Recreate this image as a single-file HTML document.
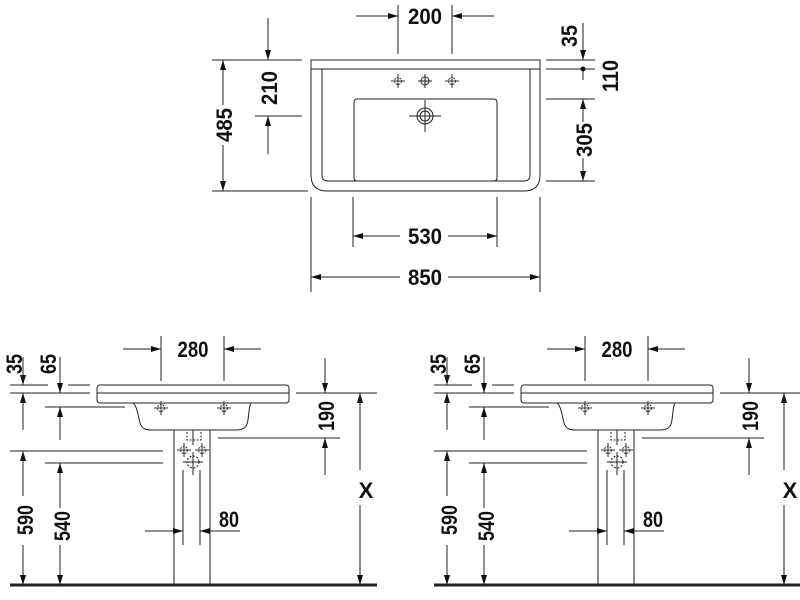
<!DOCTYPE html>
<html><head><meta charset="utf-8"><style>
html,body{margin:0;padding:0;background:#fff;}
svg{display:block}
text{font-family:"Liberation Sans Narrow","Liberation Sans",sans-serif;font-weight:bold;font-size:22px;fill:#111;text-anchor:middle;}
</style></head><body>
<svg width="800" height="600" viewBox="0 0 800 600" xmlns="http://www.w3.org/2000/svg">
<defs>
<marker id="a" viewBox="0 0 10 6" refX="10" refY="3" markerWidth="10" markerHeight="6" markerUnits="userSpaceOnUse" orient="auto"><path d="M0,0L10,3L0,6z" fill="#111"/></marker>
<g id="tap"><circle r="3.5" fill="none" stroke="#333" stroke-width="1" stroke-dasharray="2,1"/><path d="M-7,0H7M0,-7V7" stroke="#333" stroke-width="1"/></g>
<g id="side" stroke="#222" stroke-width="1" fill="none">
 <line x1="10" y1="585" x2="377" y2="585" stroke-width="3"/>
 <rect x="97" y="385" width="192" height="18" rx="3"/>
 <line x1="97" y1="393" x2="289" y2="393"/>
 <path d="M133,403 C137,406 138,415 140,423 C142,429 146,430 152,430 L236,430 C244,430 247,427 248,420 C249,412 249,406 251,403"/>
 <line x1="174" y1="430" x2="174" y2="585"/><line x1="210" y1="430" x2="210" y2="585"/>
 <line x1="183" y1="470" x2="183" y2="545"/><line x1="200" y1="470" x2="200" y2="545"/>
 <path d="M187,432V440H201V432" stroke-dasharray="2,1.5"/>
 <line x1="193" y1="430" x2="193" y2="445"/>
 <use href="#tap" x="161" y="408"/><use href="#tap" x="224" y="408"/>
 <use href="#tap" x="184" y="450"/><use href="#tap" x="202" y="450"/>
 <circle cx="193" cy="462" r="6" stroke-dasharray="2,1.5"/><path d="M183,462H203M193,452V475"/>
 <line x1="161" y1="336" x2="161" y2="381"/><line x1="224" y1="336" x2="224" y2="381"/>
 <line x1="123" y1="349" x2="161" y2="349" marker-end="url(#a)"/><line x1="261" y1="349" x2="224" y2="349" marker-end="url(#a)"/>
 <line x1="10" y1="385" x2="48" y2="385"/><line x1="68" y1="385" x2="90" y2="385"/>
 <line x1="10" y1="393" x2="90" y2="393"/>
 <line x1="23" y1="357" x2="23" y2="385" marker-end="url(#a)"/>
 <line x1="23" y1="430" x2="23" y2="393" marker-end="url(#a)"/>
 <line x1="60" y1="357" x2="60" y2="393" marker-end="url(#a)"/>
 <line x1="45" y1="407" x2="125" y2="407"/>
 <line x1="60" y1="440" x2="60" y2="407" marker-end="url(#a)"/>
 <line x1="10" y1="451" x2="163" y2="451"/>
 <line x1="45" y1="463" x2="163" y2="463"/>
 <line x1="23" y1="496" x2="23" y2="451" marker-end="url(#a)"/>
 <line x1="23" y1="545" x2="23" y2="585" marker-end="url(#a)"/>
 <line x1="60" y1="508" x2="60" y2="463" marker-end="url(#a)"/>
 <line x1="60" y1="545" x2="60" y2="585" marker-end="url(#a)"/>
 <line x1="296" y1="393" x2="377" y2="393"/>
 <line x1="325" y1="358" x2="325" y2="393" marker-end="url(#a)"/>
 <line x1="218" y1="438" x2="340" y2="438"/>
 <line x1="325" y1="475" x2="325" y2="438" marker-end="url(#a)"/>
 <line x1="360" y1="470" x2="360" y2="393" marker-end="url(#a)"/>
 <line x1="360" y1="505" x2="360" y2="585" marker-end="url(#a)"/>
 <line x1="145" y1="531" x2="183" y2="531" marker-end="url(#a)"/>
 <line x1="240" y1="531" x2="200" y2="531" marker-end="url(#a)"/>
</g>
</defs>

<g stroke="#222" stroke-width="1" fill="none">
 <path d="M311,60H540V175Q540,191 524,191H327Q311,191 311,175Z"/>
 <line x1="311" y1="69" x2="540" y2="69"/>
 <path d="M322,69V175Q322,181 328,181H524Q530,181 530,175V69"/>
 <rect x="354" y="99" width="143" height="82" rx="3"/>
 <use href="#tap" x="398" y="81"/><use href="#tap" x="452" y="81"/>
 <circle cx="425" cy="81" r="4"/><path d="M418,81H432M425,74V88"/>
 <circle cx="425" cy="116" r="8"/><circle cx="425" cy="116" r="5"/><path d="M409,116H441M425,100V132"/>
 <line x1="398" y1="5" x2="398" y2="54"/><line x1="452" y1="5" x2="452" y2="54"/>
 <line x1="356" y1="16" x2="398" y2="16" marker-end="url(#a)"/><line x1="494" y1="16" x2="452" y2="16" marker-end="url(#a)"/>
 <line x1="212" y1="60" x2="302" y2="60"/><line x1="212" y1="191" x2="308" y2="191"/>
 <line x1="223" y1="105" x2="223" y2="60" marker-end="url(#a)"/>
 <line x1="223" y1="145" x2="223" y2="191" marker-end="url(#a)"/>
 <line x1="268" y1="18" x2="268" y2="60" marker-end="url(#a)"/>
 <line x1="255" y1="116" x2="302" y2="116"/>
 <line x1="268" y1="154" x2="268" y2="116" marker-end="url(#a)"/>
 <line x1="546" y1="60" x2="595" y2="60"/><line x1="546" y1="69" x2="595" y2="69"/>
 <line x1="546" y1="99" x2="595" y2="99"/><line x1="546" y1="181" x2="595" y2="181"/>
 <line x1="583" y1="23" x2="583" y2="60" marker-end="url(#a)"/>
 <line x1="583" y1="69" x2="583" y2="80"/>
 <line x1="583" y1="122" x2="583" y2="99" marker-end="url(#a)"/>
 <line x1="583" y1="158" x2="583" y2="181" marker-end="url(#a)"/>
 <line x1="353" y1="197" x2="353" y2="247"/><line x1="497" y1="197" x2="497" y2="247"/>
 <line x1="400" y1="236" x2="353" y2="236" marker-end="url(#a)"/><line x1="448" y1="236" x2="497" y2="236" marker-end="url(#a)"/>
 <line x1="311" y1="197" x2="311" y2="292"/><line x1="540" y1="197" x2="540" y2="292"/>
 <line x1="400" y1="277" x2="311" y2="277" marker-end="url(#a)"/><line x1="448" y1="277" x2="540" y2="277" marker-end="url(#a)"/>
</g>
<circle cx="583" cy="69" r="2.5" fill="#111"/>
<text x="425" y="24" textLength="34" lengthAdjust="spacingAndGlyphs">200</text>
<text x="425" y="244" textLength="34" lengthAdjust="spacingAndGlyphs">530</text>
<text x="425" y="285" textLength="34" lengthAdjust="spacingAndGlyphs">850</text>
<text transform="translate(232,125) rotate(-90)" textLength="34" lengthAdjust="spacingAndGlyphs">485</text>
<text transform="translate(277,88) rotate(-90)" textLength="34" lengthAdjust="spacingAndGlyphs">210</text>
<text transform="translate(577,36) rotate(-90)" textLength="22" lengthAdjust="spacingAndGlyphs">35</text>
<text transform="translate(618,76) rotate(-90)" textLength="32" lengthAdjust="spacingAndGlyphs">110</text>
<text transform="translate(592,140) rotate(-90)" textLength="34" lengthAdjust="spacingAndGlyphs">305</text>

<use href="#side"/>
<use href="#side" transform="translate(424,0)"/>
<g id="lbl">
<text x="193" y="357" textLength="31" lengthAdjust="spacingAndGlyphs">280</text>
<text x="229" y="527" textLength="20" lengthAdjust="spacingAndGlyphs">80</text>
<text x="366" y="498" font-size="22">X</text>
<text transform="translate(22,364) rotate(-90)" textLength="20" lengthAdjust="spacingAndGlyphs">35</text>
<text transform="translate(56,364) rotate(-90)" textLength="20" lengthAdjust="spacingAndGlyphs">65</text>
<text transform="translate(33,520) rotate(-90)" textLength="30" lengthAdjust="spacingAndGlyphs">590</text>
<text transform="translate(70,526) rotate(-90)" textLength="30" lengthAdjust="spacingAndGlyphs">540</text>
<text transform="translate(334,416) rotate(-90)" textLength="30" lengthAdjust="spacingAndGlyphs">190</text>
</g>
<use href="#lbl" transform="translate(424,0)"/>
</svg>
</body></html>
